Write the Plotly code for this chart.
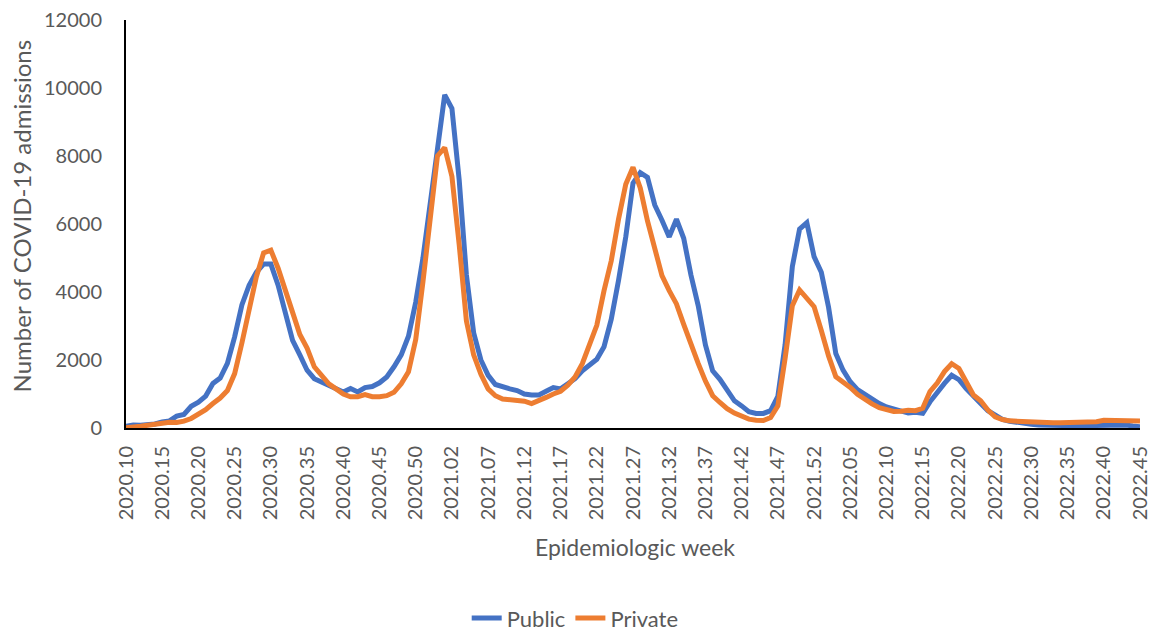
import plotly.graph_objects as go

# Epidemiologic weeks: 2020.10-2020.53, 2021.01-2021.52, 2022.01-2022.45
weeks = ([f"2020.{w:02d}" for w in range(10, 54)]
         + [f"2021.{w:02d}" for w in range(1, 53)]
         + [f"2022.{w:02d}" for w in range(1, 46)])

public = [
    50, 90, 80, 90, 120, 180, 210, 350, 400, 640,
    760, 940, 1310, 1470, 1900, 2680, 3620, 4200, 4580, 4820,
    4820, 4200, 3450, 2580, 2150, 1700, 1450, 1350, 1230, 1160,
    1060, 1160, 1060, 1190, 1220, 1330, 1500, 1800, 2150, 2700,
    3700, 5000, 6600, 8300, 9800, 9400, 7300, 4500, 2800, 2000,
    1550, 1280, 1200, 1150, 1100, 1000, 970, 970, 1080, 1190,
    1150, 1280, 1450, 1680, 1850, 2020, 2390, 3200, 4340, 5620,
    7200, 7510, 7370, 6560, 6110, 5620, 6140, 5580, 4500, 3600,
    2440, 1680, 1430, 1100, 800, 650, 480, 430, 430, 510,
    930, 2450, 4750, 5850, 6040, 5040, 4580, 3550, 2190, 1700,
    1360, 1130, 990, 870, 720, 620, 550, 490, 440, 460,
    430, 770, 1070, 1310, 1550, 1420, 1160, 920, 720, 510,
    380, 250, 200, 160, 120, 110, 90, 80, 80, 70,
    60, 60, 60, 70, 70, 70, 80, 100, 90, 60,
    40,
]

private = [
    10, 20, 50, 80, 110, 160, 170, 160, 200, 280,
    400, 540, 720, 880, 1100, 1600, 2500, 3500, 4450, 5150,
    5230, 4700, 4000, 3400, 2750, 2350, 1800, 1560, 1300, 1150,
    1000, 920, 920, 980, 920, 920, 950, 1050, 1300, 1650,
    2600, 4300, 6100, 8000, 8250, 7400, 5400, 3150, 2150, 1580,
    1150, 950, 850, 820, 810, 790, 720, 800, 900, 1000,
    1080, 1260, 1500, 1890, 2480, 3020, 4040, 4920, 6140, 7170,
    7670, 7060, 6090, 5210, 4480, 4040, 3650, 3050, 2440, 1900,
    1380, 950, 750, 570, 440, 330, 260, 230, 220, 310,
    650, 2050, 3600, 4060, 3820, 3570, 2870, 2120, 1510, 1360,
    1190, 990, 845, 710, 600, 540, 485, 490, 520, 510,
    580, 1070, 1320, 1660, 1890, 1750, 1360, 970, 800, 530,
    330, 250, 210, 195, 185, 165, 155, 155, 155, 155,
    155, 165, 185, 185, 185, 230, 230, 210, 210, 215,
    205,
]

tick_labels = weeks[::5]

BLUE = "#4472C4"
ORANGE = "#ED7D31"
GREY = "#595959"
FONT = "Lato"

fig = go.Figure()
fig.add_trace(go.Scatter(x=weeks, y=public, mode="lines", name="Public",
                         line=dict(color=BLUE, width=5)))
fig.add_trace(go.Scatter(x=weeks, y=private, mode="lines", name="Private",
                         line=dict(color=ORANGE, width=5)))

# the page body adds an 8px offset, so the canvas is 8px smaller on each axis
fig.update_layout(
    template="none",
    width=1149, height=624,
    margin=dict(l=118, r=17, t=12, b=204, autoexpand=False),
    paper_bgcolor="white", plot_bgcolor="white",
    font=dict(family=FONT, color=GREY, size=20),
    showlegend=True,
    legend=dict(orientation="h", x=0.443, xanchor="center", y=-0.466, yanchor="middle",
                font=dict(size=22, color=GREY), itemwidth=30,
                bgcolor="rgba(0,0,0,0)"),
    annotations=[
        dict(text="Epidemiologic week", xref="paper", yref="paper",
             x=0.502, y=-0.292, xanchor="center", yanchor="middle",
             showarrow=False, font=dict(size=23, color=GREY, family=FONT)),
        dict(text="Number of COVID-19 admissions", xref="paper", yref="paper",
             x=-0.103, y=0.52, xanchor="center", yanchor="middle", textangle=-90,
             showarrow=False, font=dict(size=24, color=GREY, family=FONT)),
    ],
)

fig.update_xaxes(
    type="category", categoryorder="array", categoryarray=weeks,
    range=[0, len(weeks) - 1], automargin=False,
    tickmode="array", tickvals=tick_labels, ticktext=tick_labels,
    tickangle=-90, tickfont=dict(size=20, color=GREY, family=FONT),
    showline=True, linecolor="black", linewidth=2,
    showgrid=False, zeroline=False, ticks="", ticklabelstandoff=8,
)
fig.update_yaxes(
    range=[0, 12000], dtick=2000, tick0=0, tickformat="d", automargin=False,
    tickfont=dict(size=20, color=GREY, family=FONT), ticklabeloverflow="allow",
    showline=True, linecolor="black", linewidth=2,
    showgrid=False, zeroline=False, ticks="", ticklabelstandoff=18,
)

fig.write_html("out.html")
